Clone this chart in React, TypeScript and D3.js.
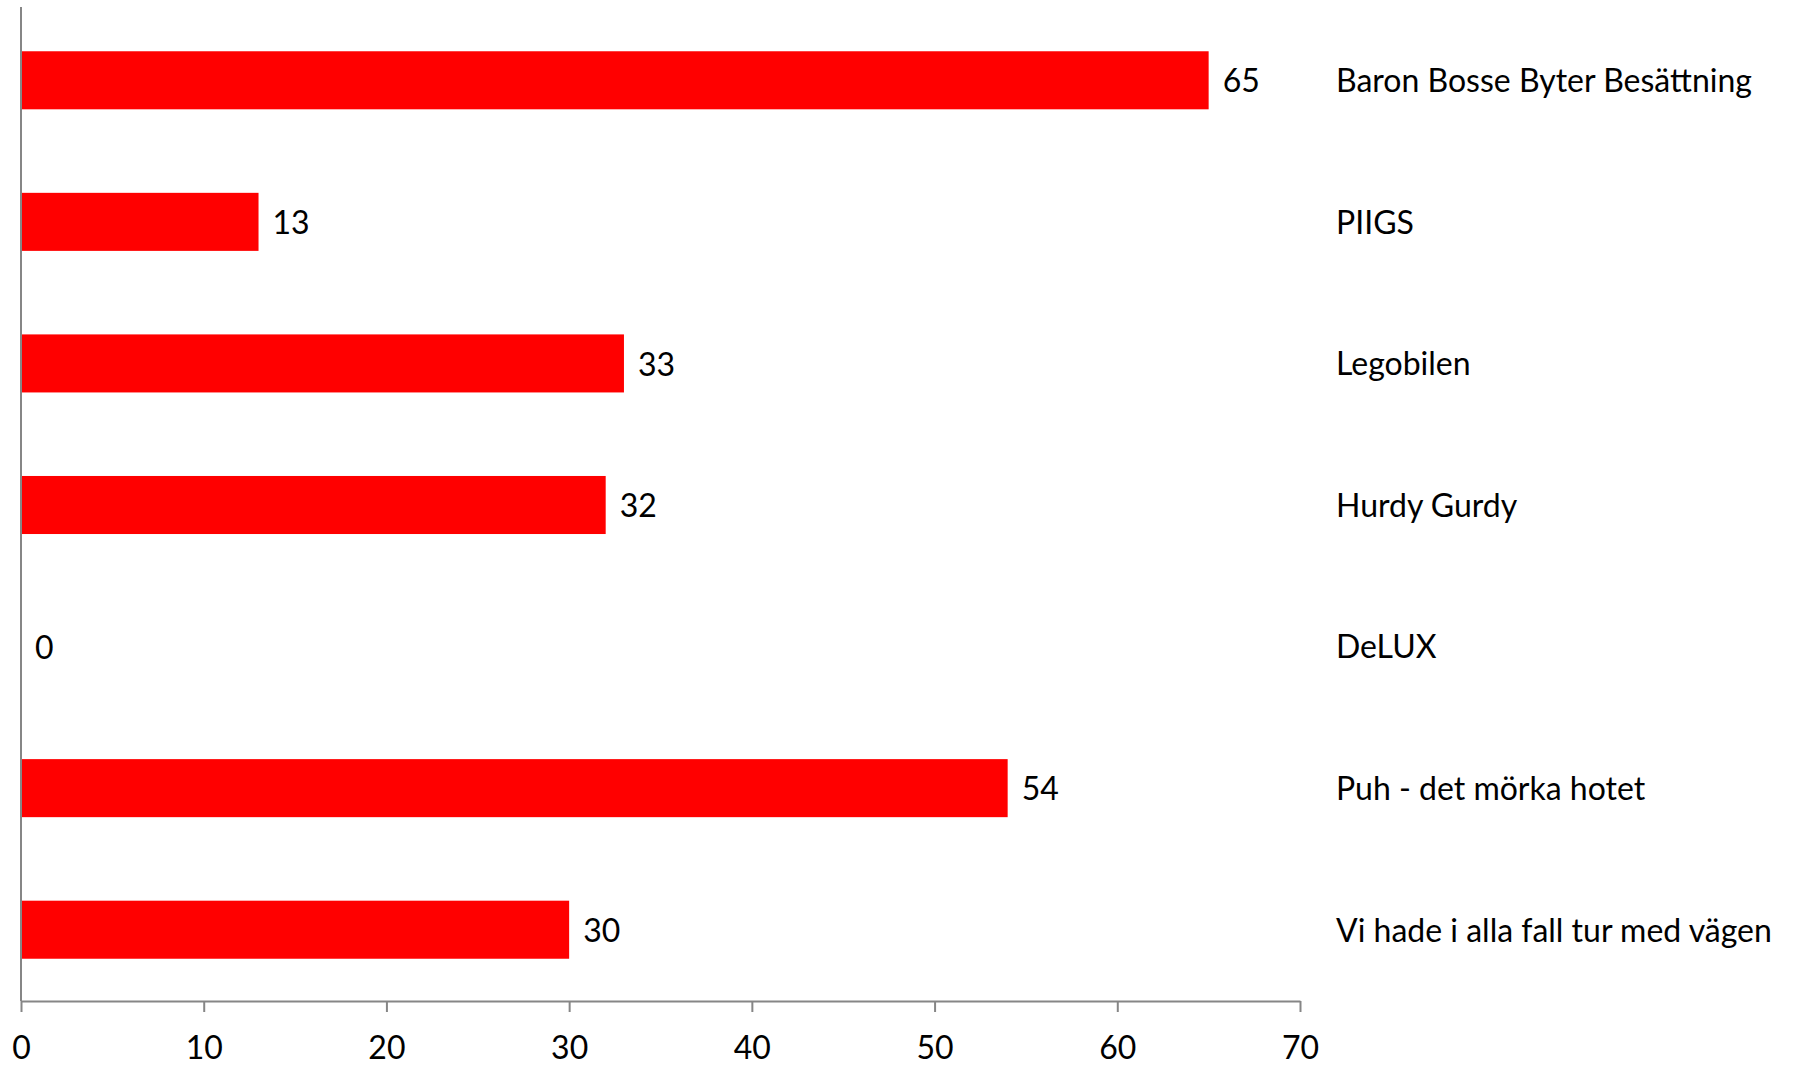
import React, { useEffect, useRef } from 'react';
import * as d3 from 'd3';

const categories = [
    'Baron Bosse Byter Besättning',
    'PIIGS',
    'Legobilen',
    'Hurdy Gurdy',
    'DeLUX',
    'Puh - det mörka hotet',
    'Vi hade i alla fall tur med vägen',
];
const values = [65, 13, 33, 32, 0, 54, 30];
const xTicks = [0, 10, 20, 30, 40, 50, 60, 70];

const App: React.FC = () => {
    const svgRef = useRef<SVGSVGElement | null>(null);

    useEffect(() => {
        if (!svgRef.current) return;
        const svg = d3.select(svgRef.current);
        svg.selectAll('*').remove();

        const width = 1796;
        const height = 1066;
        const left = 21;
        const right = 1300;
        const top = 7;
        const bottom = 1001;
        const font = 'Lato, "Open Sans", sans-serif';
        const fontSize = '32px';

        const x = d3.scaleLinear().domain([0, 70]).range([left, right]);
        // bands sit slightly lower than the axis line's top
        const y = d3.scaleBand<string>()
            .domain(categories)
            .range([top + 2.5, bottom - 0.5])
            .paddingInner(0.59)
            .paddingOuter(0.295);

        svg.attr('width', width).attr('height', height);

        // bars
        svg.selectAll('rect.bar')
            .data(categories)
            .enter()
            .append('rect')
            .attr('class', 'bar')
            .attr('x', x(0))
            .attr('y', (d) => y(d)!)
            .attr('width', (d, i) => x(values[i]) - x(0))
            .attr('height', y.bandwidth())
            .style('fill', '#ff0000');

        // value labels
        svg.selectAll('text.value')
            .data(categories)
            .enter()
            .append('text')
            .attr('class', 'value')
            .attr('x', (d, i) => x(values[i]) + 14)
            .attr('y', (d) => y(d)! + y.bandwidth() / 2)
            .attr('dy', '0.38em')
            .style('font-family', font)
            .style('font-size', fontSize)
            .style('fill', '#000')
            .text((d, i) => values[i]);

        // category labels on the right
        svg.selectAll('text.cat')
            .data(categories)
            .enter()
            .append('text')
            .attr('class', 'cat')
            .attr('x', 1336)
            .attr('y', (d) => y(d)! + y.bandwidth() / 2)
            .attr('dy', '0.37em')
            .style('font-family', font)
            .style('font-size', fontSize)
            .style('fill', '#000')
            .text((d) => d);

        // vertical axis line
        svg.append('line')
            .attr('x1', left).attr('x2', left)
            .attr('y1', top).attr('y2', bottom)
            .style('stroke', '#868686')
            .style('stroke-width', '2px');

        // bottom axis
        const axis = d3.axisBottom(x)
            .tickValues(xTicks)
            .tickSize(11)
            .tickSizeOuter(0)
            .tickPadding(24);

        const g = svg.append('g')
            .attr('transform', `translate(0, ${bottom})`)
            .call(axis);
        g.select('.domain').style('stroke', '#868686').style('stroke-width', '2px');
        g.selectAll('.tick line').style('stroke', '#868686').style('stroke-width', '2px');
        g.selectAll('.tick text')
            .style('font-family', font)
            .style('font-size', fontSize)
            .style('fill', '#000');
    }, []);

    return <svg ref={svgRef} style={{ position: 'absolute', left: 0, top: 0 }} />;
};

export default App;
